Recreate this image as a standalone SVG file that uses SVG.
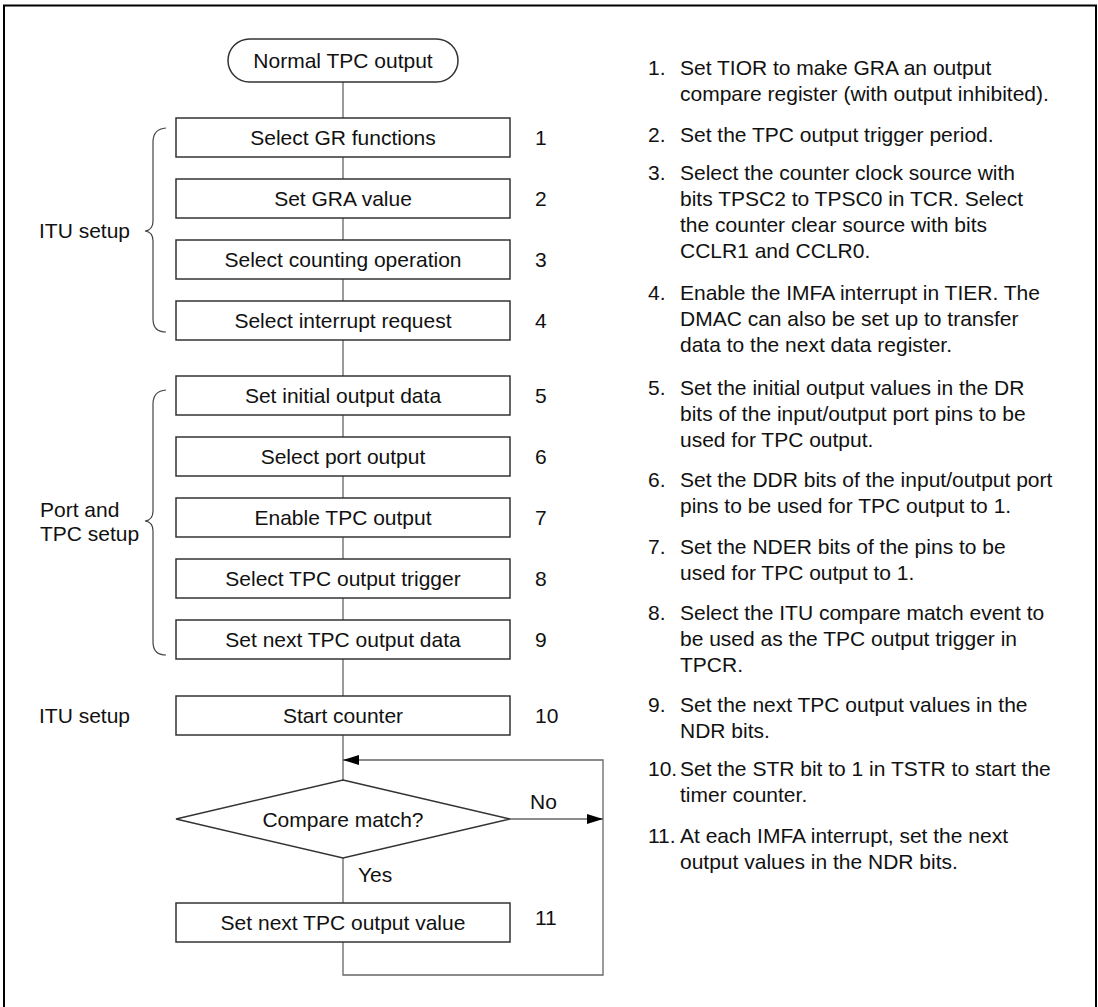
<svg xmlns="http://www.w3.org/2000/svg" width="1098" height="1007" viewBox="0 0 1098 1007">
<defs>
<style>
text{font-family:"Liberation Sans",Arial,sans-serif;font-size:21px;fill:#111}
.box{fill:#fff;stroke:#333;stroke-width:1.5}
.c{text-anchor:middle}
.ln{fill:none;stroke:#666;stroke-width:1.3}
.br{fill:none;stroke:#444;stroke-width:1.2}
</style>
<marker id="ah" markerUnits="userSpaceOnUse" markerWidth="16" markerHeight="10" refX="16" refY="5" orient="auto">
<path d="M0,0 L16,5 L0,10 Z" fill="#000"/>
</marker>
</defs>
<rect x="0" y="0" width="1098" height="1007" fill="#fff"/>
<path d="M4,1012 V5.5 H1096 V1012" fill="none" stroke="#000" stroke-width="2"/>

<g id="connectors">
<path class="ln" d="M343,82 V118 M343,157 V179 M343,218 V240 M343,279 V301 M343,340 V376 M343,415 V437 M343,476 V498 M343,537 V559 M343,598 V620 M343,659 V696 M343,735 V780 M343,858 V903"/>
<path class="ln" d="M510,819 H603" marker-end="url(#ah)"/>
<path class="ln" d="M343,942 V975 H603 V760 H343" marker-end="url(#ah)"/>
<text x="530" y="809">No</text>
<text x="358" y="882">Yes</text>
</g>

<g id="start">
<rect class="box" x="228" y="39" width="230" height="43" rx="21.5"/>
<text class="c" x="343" y="68">Normal TPC output</text>
</g>

<g id="n1"><rect class="box" x="176" y="118" width="334" height="39"/><text class="c" x="343" y="145">Select GR functions</text><text x="535" y="145">1</text></g>
<g id="n2"><rect class="box" x="176" y="179" width="334" height="39"/><text class="c" x="343" y="206">Set GRA value</text><text x="535" y="206">2</text></g>
<g id="n3"><rect class="box" x="176" y="240" width="334" height="39"/><text class="c" x="343" y="267">Select counting operation</text><text x="535" y="267">3</text></g>
<g id="n4"><rect class="box" x="176" y="301" width="334" height="39"/><text class="c" x="343" y="328">Select interrupt request</text><text x="535" y="328">4</text></g>
<g id="n5"><rect class="box" x="176" y="376" width="334" height="39"/><text class="c" x="343" y="403">Set initial output data</text><text x="535" y="403">5</text></g>
<g id="n6"><rect class="box" x="176" y="437" width="334" height="39"/><text class="c" x="343" y="464">Select port output</text><text x="535" y="464">6</text></g>
<g id="n7"><rect class="box" x="176" y="498" width="334" height="39"/><text class="c" x="343" y="525">Enable TPC output</text><text x="535" y="525">7</text></g>
<g id="n8"><rect class="box" x="176" y="559" width="334" height="39"/><text class="c" x="343" y="586">Select TPC output trigger</text><text x="535" y="586">8</text></g>
<g id="n9"><rect class="box" x="176" y="620" width="334" height="39"/><text class="c" x="343" y="647">Set next TPC output data</text><text x="535" y="647">9</text></g>
<g id="n10"><rect class="box" x="176" y="696" width="334" height="39"/><text class="c" x="343" y="723">Start counter</text><text x="535" y="723">10</text></g>
<g id="decision"><polygon class="box" points="343,780 510,819 343,858 176,819"/><text class="c" x="343" y="827">Compare match?</text></g>
<g id="n11"><rect class="box" x="176" y="903" width="334" height="39"/><text class="c" x="343" y="930">Set next TPC output value</text><text x="535" y="925">11</text></g>

<g id="group-itu">
<path class="br" d="M166,128 Q153,129 153,142 V221 Q153,230 145,231 Q153,232 153,241 V319 Q153,332 166,332"/>
<text x="39" y="238">ITU setup</text>
</g>
<g id="group-port">
<path class="br" d="M166,390 Q153,391 153,404 V511 Q153,520 145,521 Q153,522 153,531 V642 Q153,655 166,655"/>
<text x="40" y="517">Port and</text>
<text x="40" y="541">TPC setup</text>
</g>
<g id="group-itu2"><text x="39" y="723">ITU setup</text></g>

<g id="notes">
<text x="648" y="75">1.</text><text x="680" y="75">Set TIOR to make GRA an output</text>
<text x="680" y="101">compare register (with output inhibited).</text>
<text x="648" y="142">2.</text><text x="680" y="142">Set the TPC output trigger period.</text>
<text x="648" y="180">3.</text><text x="680" y="180">Select the counter clock source with</text>
<text x="680" y="206">bits TPSC2 to TPSC0 in TCR. Select</text>
<text x="680" y="232">the counter clear source with bits</text>
<text x="680" y="258">CCLR1 and CCLR0.</text>
<text x="648" y="300">4.</text><text x="680" y="300">Enable the IMFA interrupt in TIER. The</text>
<text x="680" y="326">DMAC can also be set up to transfer</text>
<text x="680" y="352">data to the next data register.</text>
<text x="648" y="395">5.</text><text x="680" y="395">Set the initial output values in the DR</text>
<text x="680" y="421">bits of the input/output port pins to be</text>
<text x="680" y="447">used for TPC output.</text>
<text x="648" y="487">6.</text><text x="680" y="487">Set the DDR bits of the input/output port</text>
<text x="680" y="513">pins to be used for TPC output to 1.</text>
<text x="648" y="554">7.</text><text x="680" y="554">Set the NDER bits of the pins to be</text>
<text x="680" y="580">used for TPC output to 1.</text>
<text x="648" y="620">8.</text><text x="680" y="620">Select the ITU compare match event to</text>
<text x="680" y="646">be used as the TPC output trigger in</text>
<text x="680" y="672">TPCR.</text>
<text x="648" y="712">9.</text><text x="680" y="712">Set the next TPC output values in the</text>
<text x="680" y="738">NDR bits.</text>
<text x="648" y="776">10.</text><text x="680" y="776">Set the STR bit to 1 in TSTR to start the</text>
<text x="680" y="802">timer counter.</text>
<text x="648" y="843">11.</text><text x="680" y="843">At each IMFA interrupt, set the next</text>
<text x="680" y="869">output values in the NDR bits.</text>
</g>
</svg>
